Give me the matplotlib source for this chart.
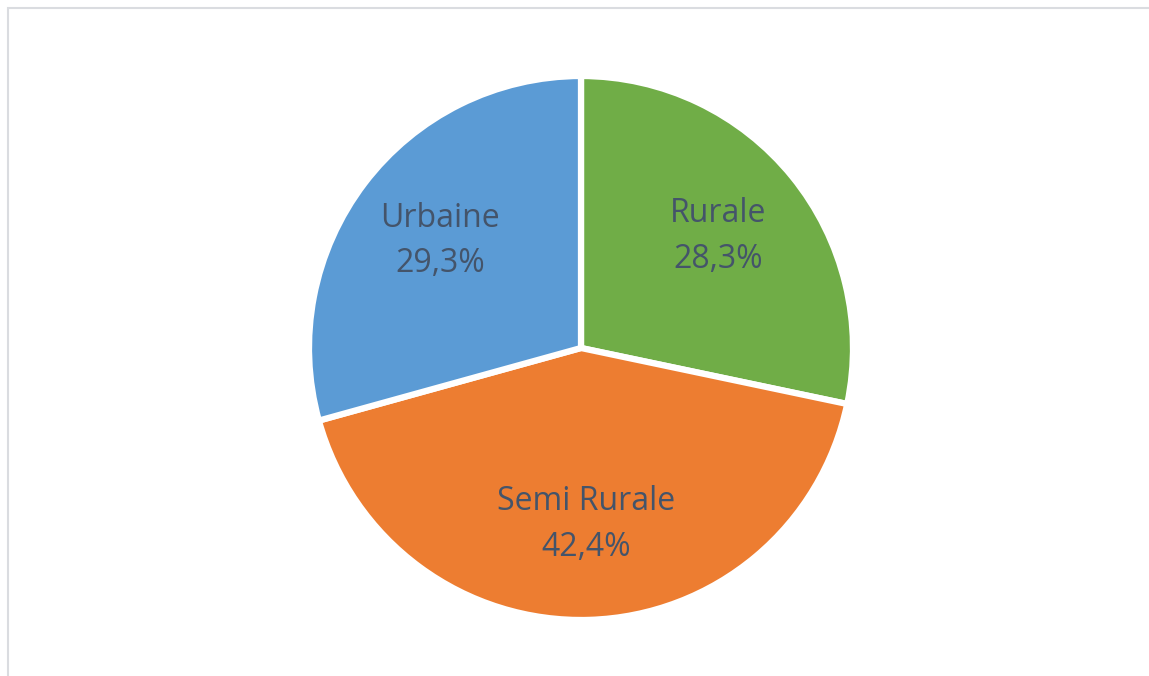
import matplotlib.pyplot as plt
from matplotlib.patches import Rectangle

# Données
categories = ["Rurale", "Semi Rurale", "Urbaine"]
valeurs = [28.3, 42.4, 29.3]
couleurs = ["#70AD47", "#ED7D31", "#5B9BD5"]

fig = plt.figure(figsize=(11.49, 6.76), dpi=100)

# cadre gris clair (coupé à droite et en bas)
fig.patches.append(Rectangle((8 / 1149, -0.1), 1.2, 1 - 8 / 676 + 0.1,
                             transform=fig.transFigure, fill=False,
                             edgecolor="#DADCE0", linewidth=1.5))

cx, cy, r = 581, 348, 272
ax = fig.add_axes([(cx - r) / 1149, (676 - cy - r) / 676, 2 * r / 1149, 2 * r / 676])

etiquettes = [f"{c}\n{v:.1f}%".replace(".", ",") for c, v in zip(categories, valeurs)]
wedges, texts = ax.pie(valeurs, colors=couleurs, startangle=90, counterclock=False,
                       labels=etiquettes, labeldistance=0.65,
                       wedgeprops=dict(edgecolor="white", linewidth=4.5),
                       textprops=dict(fontsize=23, color="#44546A", family="Open Sans",
                                      linespacing=1.5))
for t in texts:
    t.set_ha("center")
    t.set_va("center")

ax.set_xlim(-1, 1)
ax.set_ylim(-1, 1)
ax.set_aspect("equal")
ax.axis("off")

fig.savefig("out.png", dpi=100)
